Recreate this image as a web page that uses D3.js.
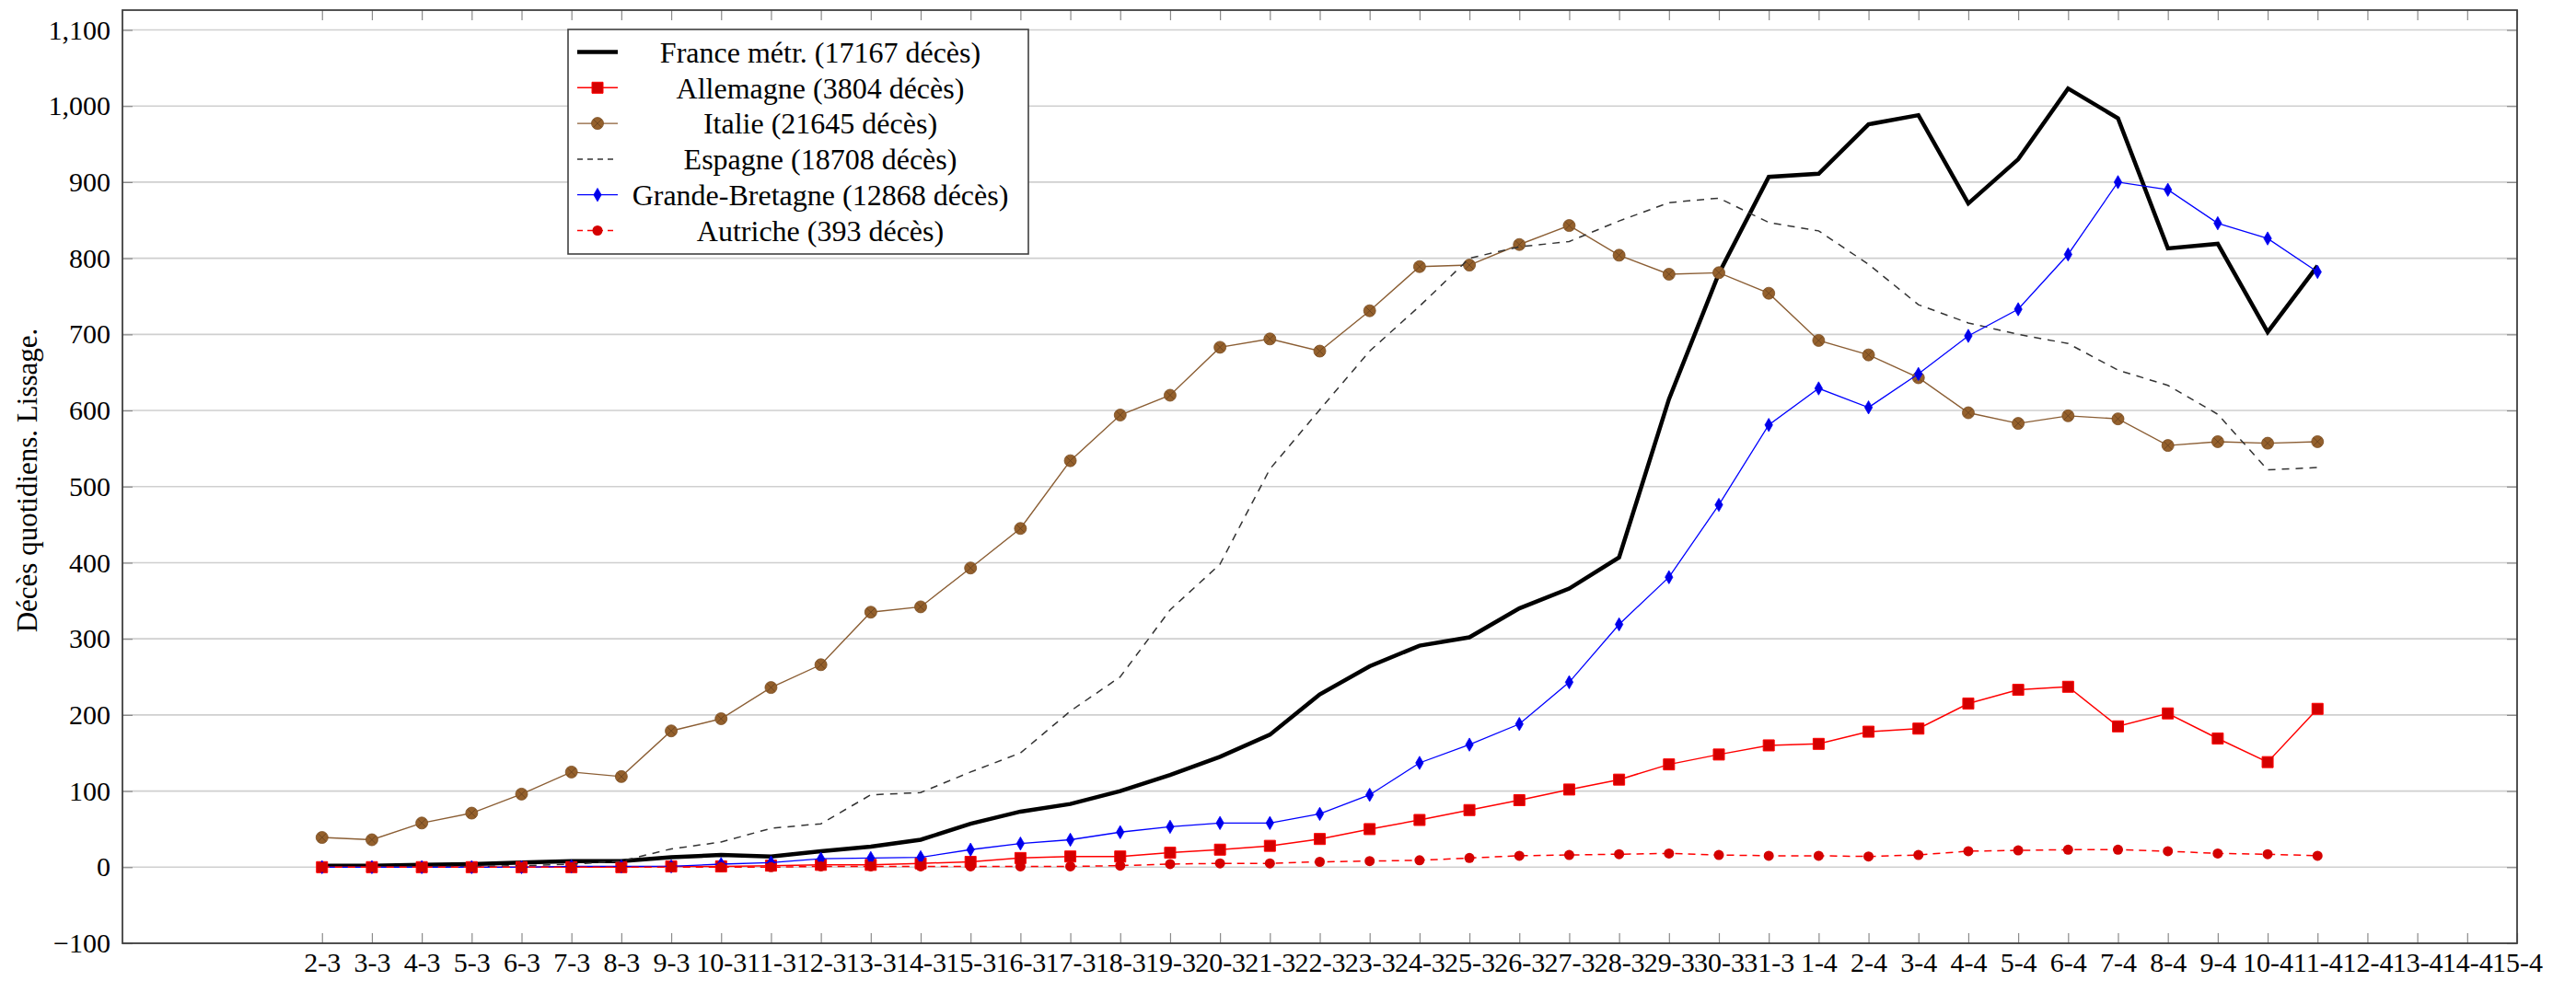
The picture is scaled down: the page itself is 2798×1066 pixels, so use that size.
<!DOCTYPE html>
<html>
<head>
<meta charset="utf-8">
<script src="https://cdn.jsdelivr.net/npm/d3@7"></script>
<style>
body{margin:0;background:#fff;}
svg{display:block;font-family:"Liberation Serif","Times New Roman",serif;}
</style>
</head>
<body>
<svg id="chart"></svg>
<script>
var screen = {width:2798, height:1066};
var margins = {top:11, right:64, bottom:41, left:133};

// tick labels (day-month)
var dates = ["2-3","3-3","4-3","5-3","6-3","7-3","8-3","9-3","10-3","11-3","12-3","13-3","14-3","15-3",
             "16-3","17-3","18-3","19-3","20-3","21-3","22-3","23-3","24-3","25-3","26-3","27-3","28-3",
             "29-3","30-3","31-3","1-4","2-4","3-4","4-4","5-4","6-4","7-4","8-4","9-4","10-4","11-4",
             "12-4","13-4","14-4","15-4"];

var yTicks = [-100,0,100,200,300,400,500,600,700,800,900,1000,1100];

// daily deaths, smoothed, from 2-3 to 11-4
var france = [2,2,3,4,6,8,8,13,16,14,21,27,36,57,73,83,100,121,145,174,227,264,291,302,340,366,407,
              615,780,907,911,976,988,872,930,1023,984,813,819,703,790];
var allemagne = [0,0,0,0,0,0,0,1,1,2,3,3,5,7,12,14,14,19,23,28,37,50,62,75,88,102,115,135,148,160,
                 162,178,182,215,233,237,185,202,169,138,208];
var italie = [39,36,58,71,96,125,119,179,195,236,266,335,342,393,445,534,594,620,683,694,678,731,789,
              791,818,843,804,779,781,754,692,673,643,597,583,593,589,554,559,557,559];
var espagne = [0,0,1,1,2,4,8,24,33,51,57,95,98,125,150,205,250,338,398,523,601,678,737,800,815,822,
               849,873,879,847,836,792,739,715,700,688,653,633,595,522,525];
var grandeBretagne = [0,0,0,0,0,1,1,1,4,6,11,12,13,23,31,36,46,53,58,58,70,95,137,161,188,243,319,381,
                      476,581,629,604,648,698,733,805,900,890,846,826,782];
var autriche = [0,0,0,0,0,0,0,0,0,0,1,1,1,1,1,1,2,4,5,5,7,8,9,12,15,16,17,18,16,15,15,14,16,21,22,23,
                23,21,18,17,15];

var legendLabels = ["France métr. (17167 décès)","Allemagne (3804 décès)","Italie (21645 décès)",
                    "Espagne (18708 décès)","Grande-Bretagne (12868 décès)","Autriche (393 décès)"];

var styles = [
    {color:"#000000", width:4.5, dash:null, mark:null},
    {color:"#ff0000", width:1.5, dash:null, mark:"square", fill:"#d40000"},
    {color:"#8b5e34", width:1.4, dash:null, mark:"otimes", fill:"#94602c"},
    {color:"#333333", width:1.5, dash:"8,7", mark:null},
    {color:"#0000ff", width:1.3, dash:null, mark:"diamond", fill:"#0000e6"},
    {color:"#ff0000", width:1.5, dash:"8,6", mark:"circle", fill:"#d40000"}
];

var seriesValues = [france, allemagne, italie, espagne, grandeBretagne, autriche];

var drawMark = function(g, type, fill, stroke)
    {
        if(type=="square")
        {
            g.append("path").attr("d", d3.symbol(d3.symbolSquare, 144)())
                .attr("fill", fill).attr("stroke", stroke).attr("stroke-width", 1);
        }
        else if(type=="diamond")
        {
            g.append("path").attr("d", d3.symbol(d3.symbolDiamond, 60)())
                .attr("fill", fill).attr("stroke", stroke).attr("stroke-width", 0.8);
        }
        else if(type=="circle")
        {
            g.append("circle").attr("r", 5.5).attr("fill", fill);
        }
        else if(type=="otimes")
        {
            g.append("circle").attr("r", 6.5).attr("fill", fill).attr("stroke", "#7a4d22").attr("stroke-width", 0.8);
            g.append("path").attr("d", "M-4.2,-4.2L4.2,4.2M-4.2,4.2L4.2,-4.2")
                .attr("stroke", "#6b4420").attr("stroke-width", 0.9);
        }
    };

var setup = function()
    {
        var svg = d3.select("#chart")
            .attr("width", screen.width)
            .attr("height", screen.height);
        var width = screen.width - margins.left - margins.right;
        var height = screen.height - margins.top - margins.bottom;

        var xscale = d3.scaleLinear()
                        .domain([-4, dates.length-1])
                        .range([0, width]);
        var yscale = d3.scaleLinear()
                        .domain([-100, 1126])
                        .range([height, 0]);

        var graph = svg.append("g")
            .attr("id", "graph")
            .attr("transform", "translate("+margins.left+","+margins.top+")");

        // horizontal grid
        graph.append("g").attr("id", "grid")
            .selectAll("line")
            .data(yTicks)
            .enter()
            .append("line")
            .attr("x1", 0).attr("x2", width)
            .attr("y1", function(d){return yscale(d);})
            .attr("y2", function(d){return yscale(d);})
            .attr("stroke", "#cfcfcf")
            .attr("stroke-width", 1.6);

        var xAxis = d3.axisBottom(xscale)
            .tickValues(d3.range(dates.length))
            .tickFormat(function(i){return dates[i];})
            .tickSizeInner(-11).tickSizeOuter(0).tickPadding(10);
        var xTop = d3.axisTop(xscale)
            .tickValues(d3.range(dates.length))
            .tickFormat("")
            .tickSizeInner(-11).tickSizeOuter(0);
        var yAxis = d3.axisLeft(yscale)
            .tickValues(yTicks)
            .tickFormat(d3.format(","))
            .tickSizeInner(-11).tickSizeOuter(0).tickPadding(13);
        var yRight = d3.axisRight(yscale)
            .tickValues(yTicks)
            .tickFormat("")
            .tickSizeInner(-11).tickSizeOuter(0);

        graph.append("g").attr("id", "xAxis")
            .attr("transform", "translate(0,"+height+")").call(xAxis);
        graph.append("g").attr("id", "xTop").call(xTop);
        graph.append("g").attr("id", "yAxis").call(yAxis);
        graph.append("g").attr("id", "yRight")
            .attr("transform", "translate("+width+",0)").call(yRight);

        graph.selectAll(".domain").remove();
        graph.selectAll(".tick line").attr("stroke", "#8a8a8a").attr("stroke-width", 1.2);
        graph.selectAll(".tick text")
            .attr("font-family", "Liberation Serif")
            .attr("font-size", 30)
            .attr("fill", "#000");

        drawLines(graph, xscale, yscale);

        // frame
        graph.append("rect")
            .attr("width", width).attr("height", height)
            .attr("fill", "none")
            .attr("stroke", "#404040")
            .attr("stroke-width", 1.8);

        svg.append("text")
            .attr("transform", "translate(40,"+(margins.top+height/2+4)+") rotate(-90)")
            .attr("text-anchor", "middle")
            .attr("font-size", 31)
            .text("Décès quotidiens. Lissage.");

        drawLegend(svg);
    };

var drawLines = function(graph, xscale, yscale)
    {
        var line = d3.line()
            .x(function(d,i){return xscale(i);})
            .y(function(d){return yscale(d);});

        seriesValues.forEach(function(vals, k)
            {
                var st = styles[k];
                var g = graph.append("g").attr("class", "series");
                g.append("path")
                    .datum(vals)
                    .attr("d", line)
                    .attr("fill", "none")
                    .attr("stroke", st.color)
                    .attr("stroke-width", st.width)
                    .attr("stroke-linejoin", "miter")
                    .attr("stroke-dasharray", st.dash);
                if(st.mark)
                {
                    g.selectAll("g.mark")
                        .data(vals)
                        .enter()
                        .append("g")
                        .attr("class", "mark")
                        .attr("transform", function(d,i){return "translate("+xscale(i)+","+yscale(d)+")";})
                        .each(function(){drawMark(d3.select(this), st.mark, st.fill, st.color);});
                }
            });
    };

var drawLegend = function(svg)
    {
        var lg = svg.append("g").attr("id", "legend").attr("transform", "translate(617,32)");
        lg.append("rect")
            .attr("width", 500).attr("height", 244)
            .attr("fill", "#fff")
            .attr("stroke", "#404040")
            .attr("stroke-width", 1.6);
        legendLabels.forEach(function(label, k)
            {
                var st = styles[k];
                var row = lg.append("g").attr("transform", "translate(0,"+(24.5+k*38.8)+")");
                row.append("line")
                    .attr("x1", 10).attr("x2", 54)
                    .attr("stroke", st.color)
                    .attr("stroke-width", st.width)
                    .attr("stroke-dasharray", st.dash ? "6,5" : null);
                if(st.mark)
                {
                    drawMark(row.append("g").attr("transform", "translate(32,0)"), st.mark, st.fill, st.color);
                }
                row.append("text")
                    .attr("x", 274)
                    .attr("dy", "0.35em")
                    .attr("text-anchor", "middle")
                    .attr("font-size", 32)
                    .text(label);
            });
    };

setup();
</script>
</body>
</html>
